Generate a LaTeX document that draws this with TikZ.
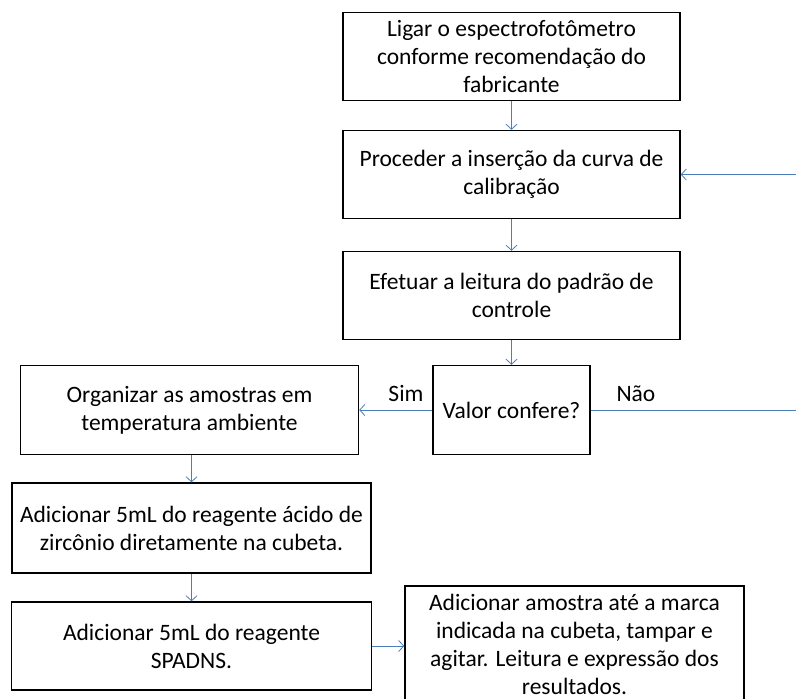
\documentclass[tikz,border=0pt]{standalone}
\usepackage{fontspec}
\setmainfont{Carlito}
\usetikzlibrary{arrows.meta,positioning}
\definecolor{OLine}{HTML}{4A7EBB}
\tikzset{
    block/.style = {draw, rectangle, line width=1.5pt,
        minimum height=88pt,
        minimum width=337pt, align=center, inner sep=2pt},
    decision/.style = {block, minimum width=157pt, minimum height=89pt},
    arrow/.style = {draw, OLine, line width=0.8pt, -{Straight Barb[length=5pt,width=11pt]}},
    line/.style = {draw, OLine, line width=0.8pt},
    lbl/.style = {inner sep=8pt, text=black}
}
\begin{document}
\begin{tikzpicture}[x=1pt, y=1pt, node distance=118pt,
    every node/.style={font=\fontsize{23.5}{28}\selectfont}]
        \useasboundingbox (0,0) rectangle (796,-699);
        \coordinate (rim) at (796,0);
        \node [block] (ligar) at (511.5,-56.5) {Ligar o espectrofotômetro\\conforme recomendação do\\fabricante};
        \node [block, below of=ligar, node distance=118pt] (insercao) {Proceder a inserção da curva de\\calibração};
        \node [block, below of=insercao, node distance=121pt] (leitura) {Efetuar a leitura do padrão de\\controle};
        \node [decision, below of=leitura, node distance=114.5pt] (valor) {Valor confere?};
        \node [block, left of=valor, node distance=322pt, minimum width=338pt, minimum height=89pt] (organizar) {Organizar as amostras em\\temperatura ambiente};
        \node [block, below of=organizar, node distance=118pt, xshift=2pt, minimum width=359pt, minimum height=90pt] (acido) {Adicionar 5mL do reagente ácido de\\zircônio diretamente na cubeta.};
        \node [block, below of=acido, node distance=118pt, minimum width=360pt] (spadns) {Adicionar 5mL do reagente\\SPADNS.};
        \node [block, right of=spadns, node distance=383pt, yshift=2pt, minimum width=339pt, minimum height=116pt] (amostra) {Adicionar amostra até a marca\\indicada na cubeta, tampar e\\agitar. Leitura e expressão dos\\resultados.};
        % main column
        \draw [arrow] (ligar) -- (insercao);
        \draw [arrow] (insercao) -- (leitura);
        \draw [arrow] (leitura) -- (valor);
        \draw [arrow] (valor) -- node[lbl, above, pos=.36] {Sim} (organizar);
        \draw [line] (valor.east) -- node[lbl, above, pos=.22] {Não} (valor.east -| rim);
        \draw [arrow] (insercao.east -| rim) -- (insercao.east);
        % left column
        \draw [arrow] (organizar.south -| acido.north) -- (acido);
        \draw [arrow] (acido) -- (spadns);
        \draw [arrow] (spadns.east) -- (spadns.east -| amostra.west);
\end{tikzpicture}
\end{document}
